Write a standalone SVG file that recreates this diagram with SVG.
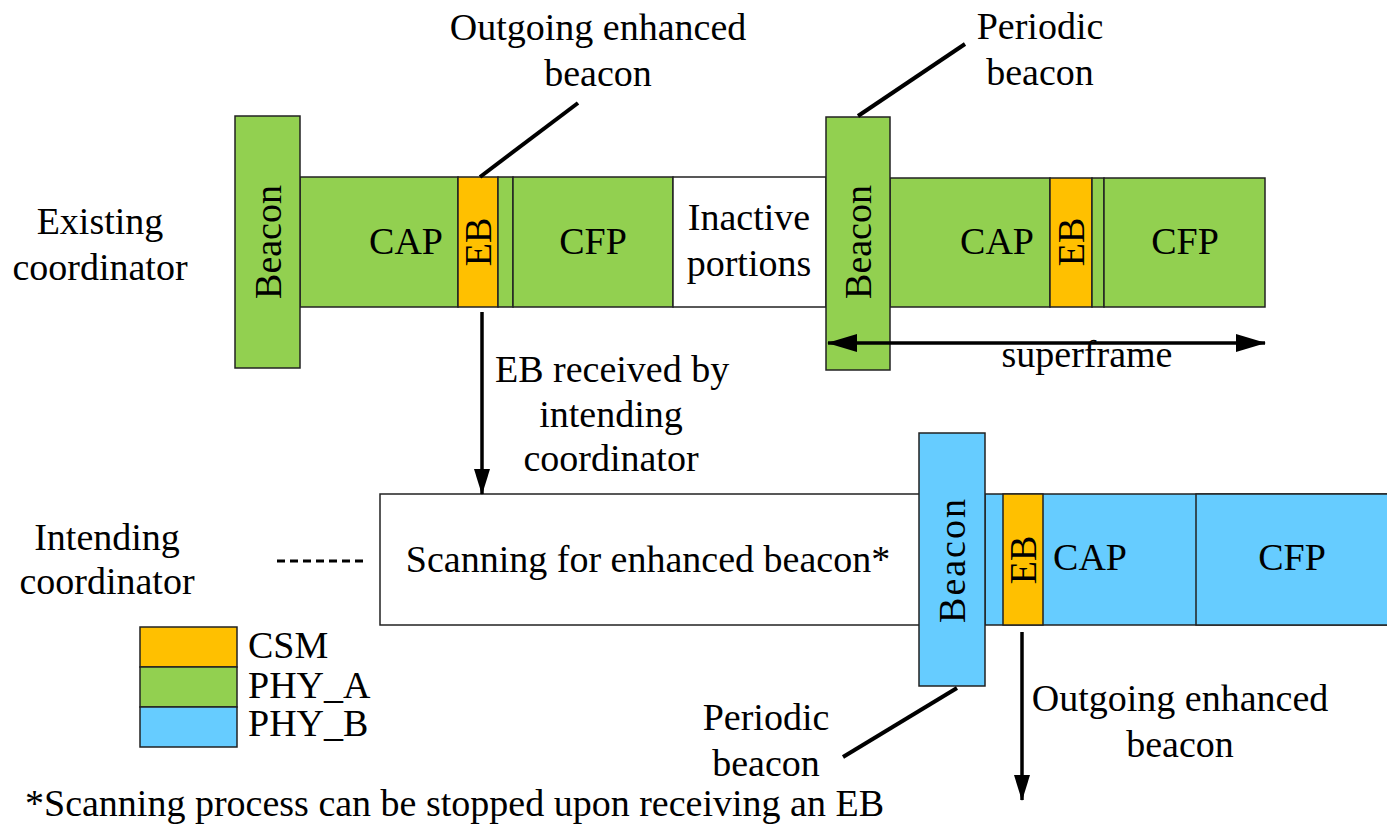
<svg xmlns="http://www.w3.org/2000/svg" width="1387" height="825" viewBox="0 0 1387 825">
<defs>
<style>
text{font-family:"Liberation Serif","Times New Roman",serif;font-size:38px;fill:#000}
.c{text-anchor:middle}
.g{fill:#92D050;stroke:#222;stroke-width:1.5}
.o{fill:#FFC000;stroke:#222;stroke-width:1.5}
.b{fill:#66CCFF;stroke:#222;stroke-width:1.5}
.w{fill:#fff;stroke:#222;stroke-width:1.5}
.ln{stroke:#000;stroke-width:4;fill:none}
.ar{stroke:#000;stroke-width:3.5;fill:none}
</style>
<marker id="ah2" markerWidth="30" markerHeight="18" refX="29" refY="9" orient="auto-start-reverse" markerUnits="userSpaceOnUse" viewBox="0 0 30 18">
<path d="M0,0 L30,9 L0,18 z" fill="#000"/>
</marker>
<marker id="ah3" markerWidth="26" markerHeight="16" refX="25" refY="8" orient="auto" markerUnits="userSpaceOnUse" viewBox="0 0 26 16">
<path d="M0,0 L26,8 L0,16 z" fill="#000"/>
</marker>
</defs>
<rect width="1387" height="825" fill="#fff"/>

<g id="labels-left">
<text class="c" x="100" y="234">Existing</text>
<text class="c" x="100" y="280">coordinator</text>
<text class="c" x="107" y="550">Intending</text>
<text class="c" x="107" y="594">coordinator</text>
</g>

<g id="existing-row">
<g id="cap1"><rect class="g" x="300" y="177" width="158" height="130"/><text class="c" x="406" y="254">CAP</text></g>
<g id="eb1"><rect class="o" x="458" y="177" width="40" height="130"/><text class="c" transform="translate(491,242) rotate(-90)">EB</text></g>
<g id="gap1"><rect class="g" x="498" y="177" width="15" height="130"/></g>
<g id="cfp1"><rect class="g" x="513" y="177" width="160" height="130"/><text class="c" x="593" y="254">CFP</text></g>
<g id="inactive"><rect class="w" x="673" y="177" width="153" height="130"/><text class="c" x="749" y="230">Inactive</text><text class="c" x="749" y="276">portions</text></g>
<g id="beacon1"><rect class="g" x="235" y="116" width="65" height="252"/><text class="c" transform="translate(281,242) rotate(-90)">Beacon</text></g>
<g id="cap2"><rect class="g" x="890" y="178" width="160" height="129"/><text class="c" x="997" y="254">CAP</text></g>
<g id="eb2"><rect class="o" x="1050" y="178" width="42" height="129"/><text class="c" transform="translate(1084,242) rotate(-90)">EB</text></g>
<g id="gap2"><rect class="g" x="1092" y="178" width="12" height="129"/></g>
<g id="cfp2"><rect class="g" x="1104" y="178" width="161" height="129"/><text class="c" x="1185" y="254">CFP</text></g>
<g id="beacon2"><rect class="g" x="826" y="117" width="64" height="253"/><text class="c" transform="translate(871,242) rotate(-90)">Beacon</text></g>
</g>

<g id="intending-row">
<g id="scan"><rect class="w" x="380" y="494" width="545" height="131"/><text class="c" x="648" y="572">Scanning for enhanced beacon*</text></g>
<g id="phyb-bar"><rect class="b" x="985" y="494" width="410" height="131"/></g>
<g id="eb3"><rect class="o" x="1003" y="494" width="40" height="131"/><text class="c" transform="translate(1036,560) rotate(-90)">EB</text></g>
<g id="cap3"><text class="c" x="1090" y="570">CAP</text></g>
<g id="cfp3"><rect class="b" x="1196" y="494" width="199" height="131"/><text class="c" x="1292" y="570">CFP</text></g>
<g id="beacon3"><rect class="b" x="919" y="433" width="66" height="253"/><text class="c" transform="translate(965,560) rotate(-90)" letter-spacing="2">Beacon</text></g>
</g>

<g id="legend">
<rect class="o" x="140" y="627" width="97" height="40"/>
<rect class="g" x="140" y="667" width="97" height="40"/>
<rect class="b" x="140" y="707" width="97" height="40"/>
<text x="248" y="658">CSM</text>
<text x="248" y="698">PHY_A</text>
<text x="248" y="736">PHY_B</text>
</g>

<g id="annotations">
<text class="c" x="598" y="40">Outgoing enhanced</text>
<text class="c" x="598" y="86">beacon</text>
<text class="c" x="1040" y="39">Periodic</text>
<text class="c" x="1040" y="85">beacon</text>
<text x="495" y="382">EB received by</text>
<text class="c" x="611" y="427">intending</text>
<text class="c" x="611" y="471">coordinator</text>
<text class="c" x="1087" y="367">superframe</text>
<text class="c" x="1180" y="711">Outgoing enhanced</text>
<text class="c" x="1180" y="757">beacon</text>
<text class="c" x="766" y="730">Periodic</text>
<text class="c" x="766" y="776">beacon</text>
<text x="25" y="816">*Scanning process can be stopped upon receiving an EB</text>
</g>

<g id="connectors">
<line class="ln" x1="480" y1="177" x2="578" y2="103"/>
<line class="ln" x1="858" y1="116" x2="965" y2="44"/>
<line class="ln" x1="843" y1="757" x2="957" y2="688"/>
<line class="ar" x1="482" y1="312" x2="482" y2="494" marker-end="url(#ah3)"/>
<line class="ar" x1="1022" y1="632" x2="1022" y2="800" marker-end="url(#ah3)"/>
<line class="ar" x1="828" y1="343" x2="1265" y2="343" marker-start="url(#ah2)" marker-end="url(#ah2)"/>
<line x1="277" y1="561" x2="368" y2="561" stroke="#000" stroke-width="3" stroke-dasharray="8,5"/>
</g>
</svg>
